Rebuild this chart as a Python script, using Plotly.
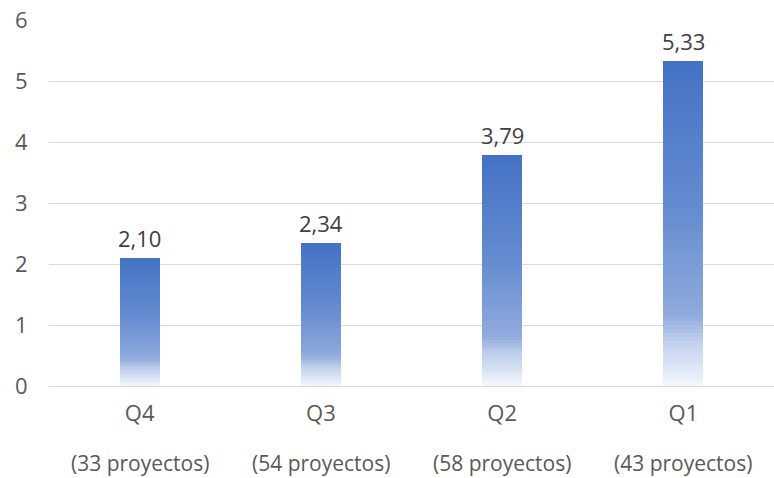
import plotly.graph_objects as go

categories = ["Q4", "Q3", "Q2", "Q1"]
project_counts = ["(33 proyectos)", "(54 proyectos)", "(58 proyectos)", "(43 proyectos)"]
values = [2.10, 2.34, 3.79, 5.33]
value_labels = ["2,10", "2,34", "3,79", "5,33"]

# gradient stops (t=0 top of bar, t=1 bottom)
stops = [(0.0, (68, 114, 196)), (0.45, (100, 139, 208)), (0.78, (143, 170, 220)),
         (0.86, (190, 206, 236)), (1.0, (244, 247, 253))]

def color_at(t):
    for (t0, c0), (t1, c1) in zip(stops[:-1], stops[1:]):
        if t0 <= t <= t1:
            f = (t - t0) / (t1 - t0) if t1 > t0 else 0
            return "rgb(%d,%d,%d)" % tuple(round(a + (b - a) * f) for a, b in zip(c0, c1))
    return "rgb(%d,%d,%d)" % stops[-1][1]

N = 80
fig = go.Figure()
for k in range(N):
    t = 1 - (k + 0.5) / N
    fig.add_trace(go.Bar(
        x=categories, y=[v / N for v in values],
        marker=dict(color=color_at(t), line=dict(width=0)),
        width=0.22, hoverinfo="skip", showlegend=False,
    ))

FS = 22
for c, v, lab in zip(categories, values, value_labels):
    fig.add_annotation(x=c, y=v, xref="x", yref="y", text=lab, showarrow=False,
                       yanchor="bottom", yshift=3, font=dict(size=FS, color="#404040"))

for c, p in zip(categories, project_counts):
    fig.add_annotation(x=c, y=0, xref="x", yref="paper", text=p, showarrow=False,
                       yanchor="middle", yshift=-77, borderpad=0,
                       font=dict(size=21, color="#595959"))

fig.update_layout(
    width=774, height=478, barmode="stack", bargap=0,
    margin=dict(l=49, r=0, t=20, b=92),
    paper_bgcolor="white", plot_bgcolor="white",
    font=dict(family="Open Sans", color="#595959", size=FS),
    xaxis=dict(
        tickmode="array", tickvals=categories, ticktext=categories,
        ticks="outside", ticklen=8, tickcolor="rgba(0,0,0,0)",
        showline=True, linecolor="#D9D9D9", linewidth=1,
        tickfont=dict(size=FS, color="#595959"),
    ),
    yaxis=dict(
        range=[0, 6], dtick=1, showgrid=True, gridcolor="#D9D9D9", gridwidth=1,
        zeroline=False, ticks="outside", ticklen=16, tickcolor="rgba(0,0,0,0)",
        tickfont=dict(size=FS, color="#595959"),
    ),
)

fig.write_html("out.html", config={"displayModeBar": False},
               post_script="document.body.style.margin='0';document.body.style.padding='0';")
